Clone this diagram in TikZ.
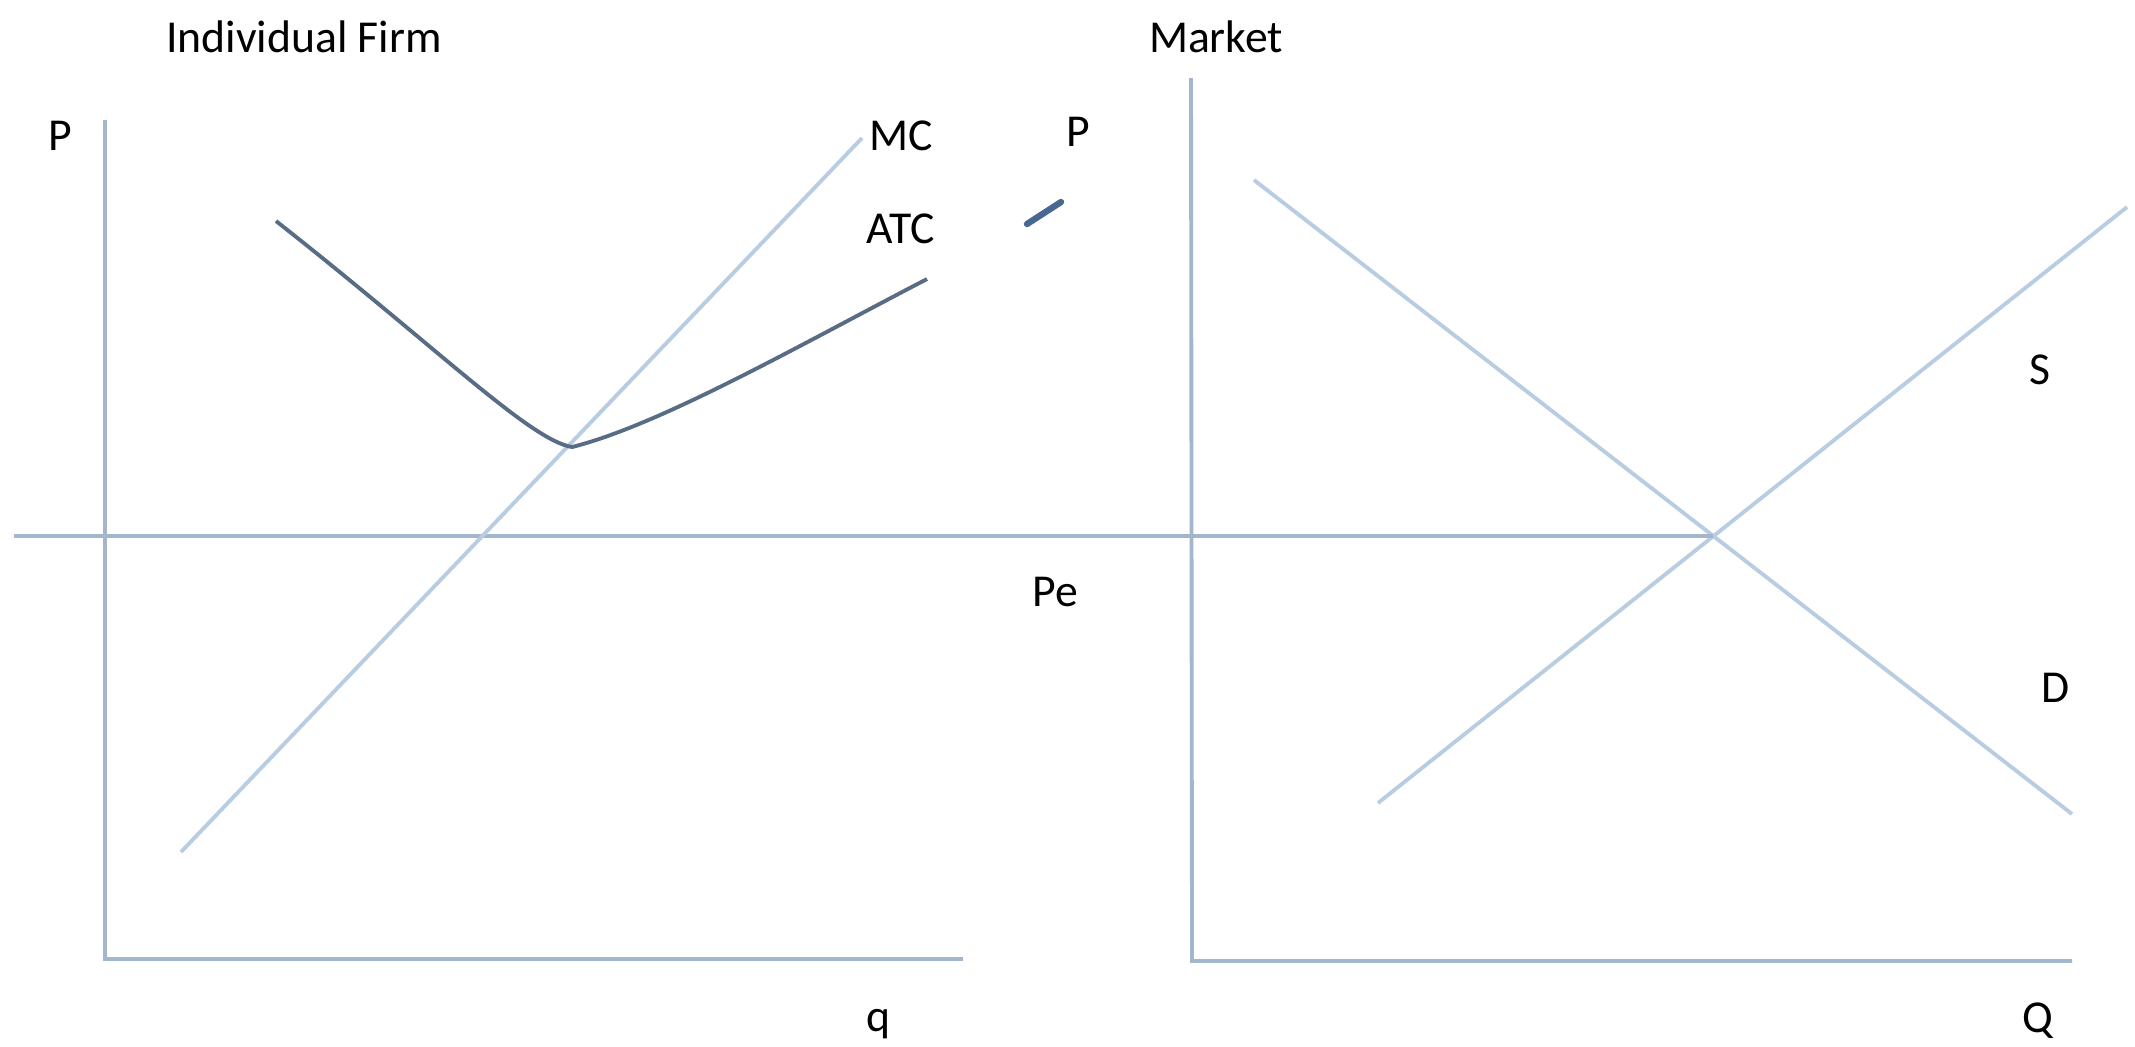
\documentclass[tikz,border=0pt]{standalone}
\usepackage{fontspec}
\setmainfont{Carlito}
\usetikzlibrary{positioning, calc}
\definecolor{axisblue}{RGB}{162,182,204}
\definecolor{lineblue}{RGB}{184,204,226}
\definecolor{costblue}{RGB}{88,108,134}
\definecolor{markblue}{RGB}{72,104,146}

\begin{document}
\begin{tikzpicture}[x=0.1mm, y=-0.1mm,
    every node/.style={font=\fontsize{13}{15}\selectfont, inner sep=0pt},
    axis/.style={draw=axisblue, line width=1.1pt},
    curve/.style={draw=lineblue, line width=1.1pt},
    cost/.style={draw=costblue, line width=1.1pt}]

    % Frame
    \useasboundingbox (0,0) rectangle (2135,1046);

    % Parameters
    \def\pe{536} % height of the price line

    % Titles
    \node (firm) at (304,37) {Individual Firm};
    \node (mkt) at (1216,37) {Market};

    % Individual firm axes
    \coordinate (O1) at (105,959);
    \coordinate (Y1) at (105,120);
    \coordinate (X1) at (963,959);
    \draw[axis] (Y1) -- (O1) -- (X1);
    \node (P1) at (60,136) {P};
    \node (q) at (878,1024) {q};

    % Market axes
    \coordinate (O2) at (1192,961);
    \coordinate (Y2) at (1191,78);
    \coordinate (X2) at (2072,961);
    \draw[axis] (Y2) -- (O2) -- (X2);
    \node (P2) at (1078,132) {P};
    \node (Q) at (2038,1021) {Q};

    % Market supply and demand
    \coordinate (D0) at (1254,180);
    \coordinate (D1) at (2072,814);
    \coordinate (S0) at (1378,803);
    \coordinate (S1) at (2127,207);
    \draw[curve] (D0) -- (D1);
    \draw[curve] (S0) -- (S1);
    \node (S) at (2040,370) {S};
    \node (D) at (2056,688) {D};

    % Equilibrium price carried over to the firm
    \coordinate (E) at (1713,\pe);
    \coordinate (Pe0) at (14,\pe);
    \draw[axis] (Pe0) -- (E);
    \node (Pe) at (1055,592) {Pe};

    % Firm cost curves
    \coordinate (MC0) at (181,852);
    \coordinate (MC1) at (862,138);
    \draw[curve] (MC0) -- (MC1);
    \node (MC) at (901,136) {MC};

    \coordinate (A0) at (276,221);
    \coordinate (Amin) at (572,447);
    \coordinate (A1) at (927,279);
    \draw[cost] (A0) .. controls (440,350) and (530,440) .. (Amin)
        .. controls (660,425) and (800,345) .. (A1);
    \node (ATC) at (901,229) {ATC};

    % stray mark
    \coordinate (m0) at (1027,224);
    \coordinate (m1) at (1061,202);
    \draw[draw=markblue, line width=1.8pt, line cap=round] (m0) -- (m1);

\end{tikzpicture}
\end{document}
